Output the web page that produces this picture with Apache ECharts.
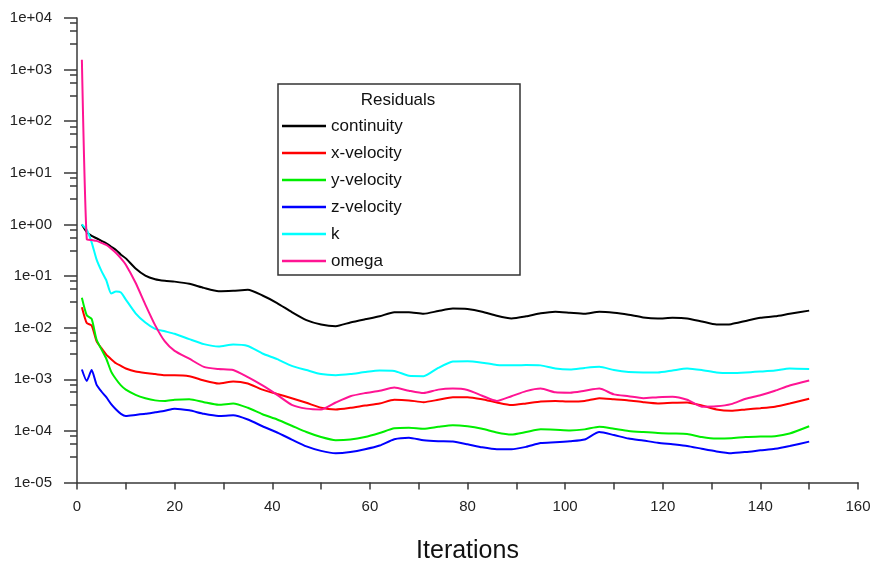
<!DOCTYPE html>
<html>
<head>
<meta charset="utf-8">
<title>Residuals</title>
<script src="https://cdn.jsdelivr.net/npm/echarts@6/dist/echarts.min.js"></script>
<style>
  html, body { margin: 0; padding: 0; background: #ffffff; }
  #chart { width: 870px; height: 562px; }
</style>
</head>
<body>
<div id="chart"></div>
<script>
// Iterations at which residuals were sampled
const iterations = [1, 2, 3, 4, 5, 6, 7, 8, 9, 10, 12, 14, 16, 18, 20, 23, 26, 29, 32, 35, 38, 41, 44, 47, 50,
  53, 56, 59, 62, 65, 68, 71, 74, 77, 80, 83, 86, 89, 92, 95, 98, 101, 104, 107, 110, 113, 116, 119, 122, 125,
  128, 131, 134, 137, 140, 143, 146, 150];

const continuity = [1.0, 7.1e-1, 6.0e-1, 5.4e-1, 4.8e-1, 4.3e-1, 3.7e-1, 3.2e-1, 2.6e-1, 2.2e-1, 1.4e-1, 1.02e-1,
  8.7e-2, 8.1e-2, 7.8e-2, 7.1e-2, 5.9e-2, 5.1e-2, 5.2e-2, 5.4e-2, 4.2e-2, 3.0e-2, 2.0e-2, 1.4e-2, 1.15e-2,
  1.07e-2, 1.26e-2, 1.45e-2, 1.66e-2, 2.0e-2, 2.0e-2, 1.86e-2, 2.1e-2, 2.34e-2, 2.29e-2, 2.04e-2, 1.7e-2,
  1.51e-2, 1.66e-2, 1.9e-2, 2.04e-2, 1.95e-2, 1.86e-2, 2.04e-2, 1.95e-2, 1.78e-2, 1.58e-2, 1.51e-2, 1.55e-2,
  1.51e-2, 1.32e-2, 1.15e-2, 1.17e-2, 1.35e-2, 1.55e-2, 1.66e-2, 1.86e-2, 2.14e-2];

const xVelocity = [2.5e-2, 1.23e-2, 1.1e-2, 5.5e-3, 4.0e-3, 3.0e-3, 2.45e-3, 2.04e-3, 1.82e-3, 1.62e-3, 1.41e-3,
  1.32e-3, 1.26e-3, 1.2e-3, 1.2e-3, 1.15e-3, 9.5e-4, 8.3e-4, 9.1e-4, 8.3e-4, 6.3e-4, 5.2e-4, 4.3e-4, 3.5e-4,
  2.8e-4, 2.6e-4, 2.8e-4, 3.1e-4, 3.4e-4, 4.0e-4, 3.9e-4, 3.6e-4, 4.0e-4, 4.5e-4, 4.5e-4, 4.1e-4, 3.55e-4,
  3.16e-4, 3.4e-4, 3.7e-4, 3.8e-4, 3.7e-4, 3.8e-4, 4.3e-4, 4.1e-4, 3.9e-4, 3.6e-4, 3.4e-4, 3.5e-4, 3.55e-4,
  3.1e-4, 2.6e-4, 2.45e-4, 2.6e-4, 2.75e-4, 2.95e-4, 3.4e-4, 4.2e-4];

const yVelocity = [3.8e-2, 1.74e-2, 1.48e-2, 5.9e-3, 3.8e-3, 2.5e-3, 1.41e-3, 1.0e-3, 7.6e-4, 6.3e-4, 5.0e-4,
  4.3e-4, 3.9e-4, 3.8e-4, 4.0e-4, 4.1e-4, 3.6e-4, 3.2e-4, 3.4e-4, 2.8e-4, 2.1e-4, 1.66e-4, 1.26e-4, 9.5e-5,
  7.6e-5, 6.6e-5, 6.8e-5, 7.6e-5, 9.1e-5, 1.12e-4, 1.15e-4, 1.1e-4, 1.2e-4, 1.29e-4, 1.23e-4, 1.1e-4, 9.3e-5,
  8.5e-5, 9.5e-5, 1.07e-4, 1.05e-4, 1.02e-4, 1.07e-4, 1.2e-4, 1.1e-4, 1.0e-4, 9.5e-5, 9.1e-5, 8.9e-5, 8.7e-5,
  7.6e-5, 7.1e-5, 7.2e-5, 7.6e-5, 7.8e-5, 7.9e-5, 8.9e-5, 1.23e-4];

const zVelocity = [1.55e-3, 9.3e-4, 1.51e-3, 7.9e-4, 5.8e-4, 4.5e-4, 3.3e-4, 2.6e-4, 2.14e-4, 1.95e-4, 2.04e-4,
  2.14e-4, 2.29e-4, 2.45e-4, 2.7e-4, 2.5e-4, 2.14e-4, 1.95e-4, 2.0e-4, 1.66e-4, 1.23e-4, 9.3e-5, 6.8e-5, 5.0e-5,
  4.1e-5, 3.7e-5, 3.9e-5, 4.4e-5, 5.2e-5, 6.9e-5, 7.4e-5, 6.6e-5, 6.3e-5, 6.2e-5, 5.5e-5, 4.8e-5, 4.4e-5,
  4.4e-5, 4.9e-5, 5.8e-5, 6.0e-5, 6.3e-5, 6.8e-5, 9.5e-5, 8.3e-5, 7.1e-5, 6.5e-5, 5.9e-5, 5.5e-5, 5.1e-5,
  4.5e-5, 4.0e-5, 3.7e-5, 3.9e-5, 4.2e-5, 4.5e-5, 5.1e-5, 6.2e-5];

const kResidual = [1.0, 7.9e-1, 4.5e-1, 2.1e-1, 1.26e-1, 8.3e-2, 4.6e-2, 5.0e-2, 4.8e-2, 3.5e-2, 1.9e-2, 1.26e-2,
  9.5e-3, 8.5e-3, 7.6e-3, 6.0e-3, 4.8e-3, 4.3e-3, 4.7e-3, 4.4e-3, 3.16e-3, 2.45e-3, 1.82e-3, 1.51e-3, 1.26e-3,
  1.2e-3, 1.26e-3, 1.38e-3, 1.48e-3, 1.45e-3, 1.17e-3, 1.15e-3, 1.66e-3, 2.2e-3, 2.24e-3, 2.1e-3, 1.9e-3,
  1.86e-3, 1.9e-3, 1.86e-3, 1.62e-3, 1.55e-3, 1.66e-3, 1.74e-3, 1.51e-3, 1.38e-3, 1.35e-3, 1.35e-3, 1.48e-3,
  1.62e-3, 1.51e-3, 1.35e-3, 1.32e-3, 1.35e-3, 1.41e-3, 1.48e-3, 1.62e-3, 1.58e-3];

const omega = [1.55e3, 5.2e-1, 5.0e-1, 4.8e-1, 4.4e-1, 4.0e-1, 3.4e-1, 2.8e-1, 2.2e-1, 1.66e-1, 7.4e-2, 2.8e-2,
  1.12e-2, 5.4e-3, 3.55e-3, 2.5e-3, 1.74e-3, 1.58e-3, 1.51e-3, 1.1e-3, 7.6e-4, 5.0e-4, 3.2e-4, 2.7e-4, 2.6e-4,
  3.55e-4, 4.7e-4, 5.4e-4, 6.0e-4, 6.9e-4, 6.0e-4, 5.4e-4, 6.3e-4, 6.6e-4, 6.2e-4, 4.8e-4, 3.8e-4, 4.7e-4,
  5.9e-4, 6.6e-4, 5.6e-4, 5.5e-4, 6.0e-4, 6.6e-4, 5.1e-4, 4.7e-4, 4.3e-4, 4.5e-4, 4.6e-4, 4.0e-4, 2.95e-4,
  3.0e-4, 3.3e-4, 4.2e-4, 4.9e-4, 6.0e-4, 7.6e-4, 9.5e-4];

const seriesNames = ['continuity', 'x-velocity', 'y-velocity', 'z-velocity', 'k', 'omega'];
const seriesValues = [continuity, xVelocity, yVelocity, zVelocity, kResidual, omega];
const seriesColors = ['#000000', '#ff0000', '#00ee00', '#0000ff', '#00ffff', '#ff1493'];

const FONT = 'Arial, "Liberation Sans", sans-serif';

// exponent labels in the solver's style: 1e+04, 1e-05 ...
function expLabel(v) {
  const e = Math.round(Math.log10(v));
  return '1e' + (e < 0 ? '-' : '+') + String(Math.abs(e)).padStart(2, '0');
}

// three short ticks inside each decade (as exponents)
const minorTickExps = [];
for (let d = -5; d < 4; d++) {
  minorTickExps.push(d + 0.5, d + 0.75, d + 0.9);
}

const AXIS_COLOR = '#3a3a3a';

const chart = echarts.init(document.getElementById('chart'), null, { renderer: 'canvas' });

chart.setOption({
  backgroundColor: '#ffffff',
  animation: false,
  grid: { left: 77, right: 12, top: 18, bottom: 79.5, containLabel: false, outerBoundsMode: 'none' },
  xAxis: {
    type: 'value',
    min: 0,
    max: 160,
    interval: 20,
    name: 'Iterations',
    nameLocation: 'middle',
    nameGap: 56,
    nameTextStyle: { fontFamily: FONT, fontSize: 25, color: '#111111' },
    axisLine: { show: true, onZero: false, lineStyle: { color: AXIS_COLOR, width: 1.5 } },
    axisTick: { show: true, inside: false, length: 7, lineStyle: { color: AXIS_COLOR, width: 1.5 } },
    minorTick: { show: true, splitNumber: 2, length: 7, lineStyle: { color: AXIS_COLOR, width: 1.5 } },
    axisLabel: { fontFamily: FONT, fontSize: 15, color: '#222222', margin: 17 },
    splitLine: { show: false },
    minorSplitLine: { show: false }
  },
  yAxis: [
    {
      type: 'log',
      logBase: 10,
      min: 1e-5,
      max: 1e4,
      interval: 1,
      axisLine: { show: true, lineStyle: { color: AXIS_COLOR, width: 1.5 } },
      axisTick: { show: true, inside: false, length: 13, lineStyle: { color: AXIS_COLOR, width: 1.5 } },
      axisLabel: { fontFamily: FONT, fontSize: 15, color: '#222222', margin: 25, formatter: expLabel },
      splitLine: { show: false }
    },
    {
      // short ticks between the decades
      type: 'value',
      min: -5,
      max: 4,
      position: 'left',
      axisLine: { show: false },
      axisTick: { show: true, inside: false, length: 7, customValues: minorTickExps,
        lineStyle: { color: AXIS_COLOR, width: 1.5 } },
      axisLabel: { show: false },
      splitLine: { show: false }
    }
  ],
  legend: {
    orient: 'vertical',
    left: 278,
    top: 84,
    padding: [32, 9, 4, 4],
    icon: 'rect',
    itemWidth: 44,
    itemHeight: 2.5,
    itemGap: 7,
    borderColor: '#333333',
    borderWidth: 1.5,
    borderRadius: 0,
    backgroundColor: '#ffffff',
    selectedMode: false,
    textStyle: { fontFamily: FONT, fontSize: 17, color: '#111111', lineHeight: 20, width: 180 },
    data: seriesNames
  },
  graphic: [{
    type: 'text',
    x: 398,
    y: 100,
    z: 100,
    style: {
      text: 'Residuals',
      fontFamily: FONT,
      fontSize: 17,
      fill: '#111111',
      textAlign: 'center',
      textVerticalAlign: 'middle'
    }
  }],
  series: seriesNames.map((name, i) => ({
    name: name,
    type: 'line',
    yAxisIndex: 0,
    symbol: 'none',
    smooth: 0.2,
    lineStyle: { color: seriesColors[i], width: 2 },
    itemStyle: { color: seriesColors[i] },
    data: iterations.map((it, j) => [it, seriesValues[i][j]])
  }))
});
</script>
</body>
</html>
